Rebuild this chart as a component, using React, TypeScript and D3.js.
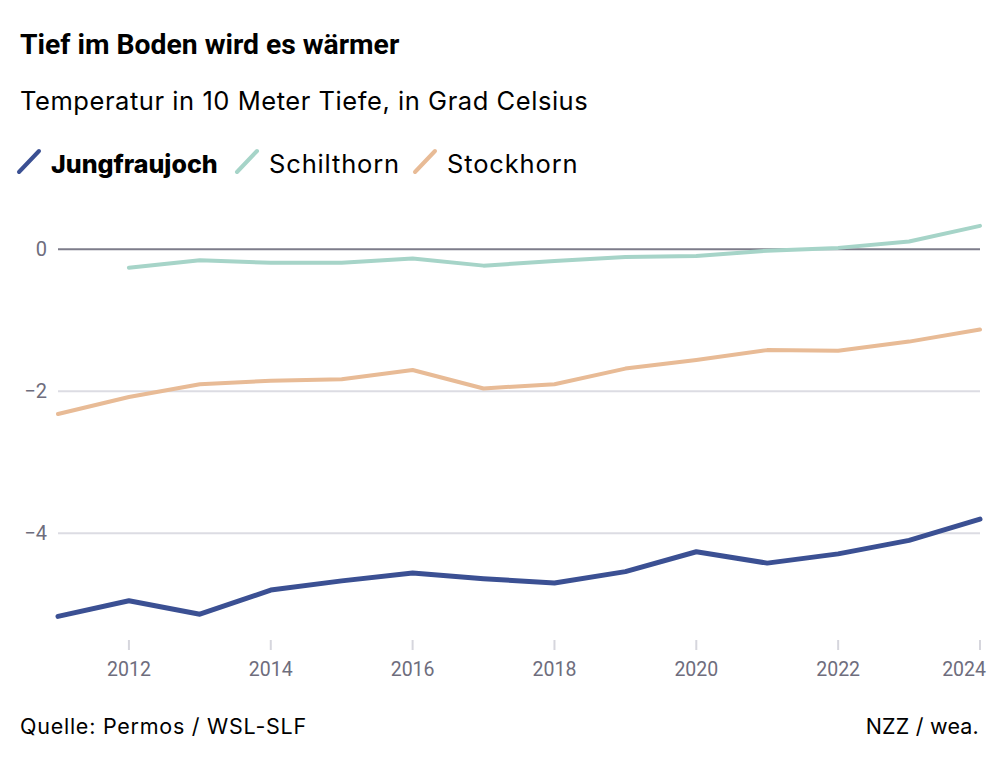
import { useEffect, useRef } from "react";
import * as d3 from "d3";

// Jahre und Messwerte (Temperatur in 10 m Tiefe, °C)
const years = [2011, 2012, 2013, 2014, 2015, 2016, 2017, 2018, 2019, 2020, 2021, 2022, 2023, 2024];
const jungfraujoch = [-5.17, -4.95, -5.14, -4.8, -4.67, -4.56, -4.64, -4.7, -4.54, -4.26, -4.42, -4.29, -4.1, -3.8];
const schilthorn = [null, -0.26, -0.155, -0.19, -0.19, -0.13, -0.23, -0.165, -0.11, -0.095, -0.02, 0.02, 0.11, 0.33];
const stockhorn = [-2.32, -2.08, -1.9, -1.85, -1.83, -1.7, -1.96, -1.9, -1.68, -1.56, -1.42, -1.43, -1.3, -1.13];

const yTicks = [0, -2, -4];
const xTicks = [2012, 2014, 2016, 2018, 2020, 2022, 2024];

const series = [
  { name: "Jungfraujoch", values: jungfraujoch, color: "#3b5093", width: 5, bold: true },
  { name: "Schilthorn", values: schilthorn, color: "#a6d4c8", width: 4, bold: false },
  { name: "Stockhorn", values: stockhorn, color: "#e8bb96", width: 4, bold: false },
];

const W = 1000;
const H = 762;
const TITLE_FONT = "Roboto, 'Noto Sans', sans-serif";
const FONT = "Inter, 'Noto Sans', sans-serif";
const AXIS_FONT = "Roboto, 'Noto Sans', sans-serif";

export default function App() {
  const svgRef = useRef<SVGSVGElement>(null);

  useEffect(() => {
    if (!svgRef.current) return;
    const svg = d3.select(svgRef.current);
    svg.selectAll("*").remove();

    const x = d3.scaleLinear().domain([2011, 2024]).range([58, 980]);
    const y = d3.scaleLinear().domain([0, -4]).range([249.3, 533.3]);

    // ── Titel ──
    svg.append("text")
      .attr("x", 20).attr("y", 54)
      .attr("font-family", TITLE_FONT).attr("font-weight", 700).attr("font-size", 28.3)
      .attr("fill", "#000")
      .text("Tief im Boden wird es wärmer");

    svg.append("text")
      .attr("x", 20).attr("y", 110)
      .attr("font-family", FONT).attr("font-size", 25.5)
      .attr("letter-spacing", 0.55)
      .attr("fill", "#000")
      .text("Temperatur in 10 Meter Tiefe, in Grad Celsius");

    // ── Legende ──
    const legendX = [19, 237, 415];
    series.forEach((s, i) => {
      const lx = legendX[i];
      svg.append("line")
        .attr("x1", lx).attr("y1", 172)
        .attr("x2", lx + 20).attr("y2", 151)
        .attr("stroke", s.color).attr("stroke-width", 4)
        .attr("stroke-linecap", "round");
      svg.append("text")
        .attr("x", lx + 32).attr("y", 173)
        .attr("font-family", FONT)
        .attr("font-weight", s.bold ? 800 : 400)
        .attr("font-size", s.bold ? 25 : 25.5)
        .attr("letter-spacing", s.bold ? 0 : 0.85)
        .attr("fill", "#000")
        .text(s.name);
    });

    // ── Gitterlinien ──
    const grid = svg.append("g");
    yTicks.forEach((t) => {
      grid.append("line")
        .attr("x1", 58).attr("x2", 980)
        .attr("y1", y(t)).attr("y2", y(t))
        .attr("stroke", t === 0 ? "#7d7c8a" : "#dcdce3")
        .attr("stroke-width", 2);
      grid.append("text")
        .attr("x", 47).attr("y", y(t))
        .attr("dy", "0.35em")
        .attr("text-anchor", "end")
        .attr("font-family", AXIS_FONT).attr("font-size", 20)
        .attr("fill", "#6e6d7d")
        .text(t < 0 ? `\u2212${Math.abs(t)}` : `${t}`);
    });

    // ── x-Achse ──
    const xa = svg.append("g");
    xTicks.forEach((t) => {
      xa.append("line")
        .attr("x1", x(t)).attr("x2", x(t))
        .attr("y1", 640).attr("y2", 650)
        .attr("stroke", "#d6d6dd").attr("stroke-width", 2);
      xa.append("text")
        .attr("x", x(t)).attr("y", 676)
        .attr("text-anchor", t === 2024 ? "end" : "middle")
        .attr("dx", t === 2024 ? 6 : 0)
        .attr("font-family", AXIS_FONT).attr("font-size", 19.5)
        .attr("fill", "#6e6d7d")
        .text(t);
    });

    // ── Linien ──
    const line = d3.line<number | null>()
      .defined((d) => d != null)
      .x((_, i) => x(years[i]))
      .y((d) => y(d as number));

    [...series].reverse().forEach((s) => {
      svg.append("path")
        .datum(s.values)
        .attr("d", line as any)
        .attr("fill", "none")
        .attr("stroke", s.color)
        .attr("stroke-width", s.width)
        .attr("stroke-linejoin", "round")
        .attr("stroke-linecap", "round");
    });

    // ── Fusszeile ──
    svg.append("text")
      .attr("x", 20).attr("y", 734)
      .attr("font-family", FONT).attr("font-size", 21.5)
      .attr("letter-spacing", 0.75)
      .attr("fill", "#000")
      .text("Quelle: Permos / WSL-SLF");
    svg.append("text")
      .attr("x", 979).attr("y", 734)
      .attr("text-anchor", "end")
      .attr("font-family", FONT).attr("font-size", 21.5)
      .attr("letter-spacing", 0.2)
      .attr("fill", "#000")
      .text("NZZ / wea.");
  }, []);

  return (
    <svg
      ref={svgRef}
      width={W}
      height={H}
      style={{ position: "absolute", left: 0, top: 0, background: "#fff" }}
    />
  );
}
